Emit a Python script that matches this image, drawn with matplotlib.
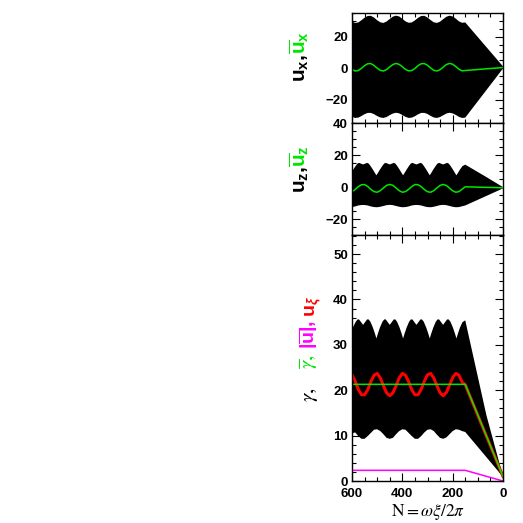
import numpy as np
import matplotlib
matplotlib.use("Agg")
import matplotlib.pyplot as plt
from matplotlib.ticker import MultipleLocator

plt.rcParams["font.family"] = ["Liberation Sans", "DejaVu Sans"]
plt.rcParams["mathtext.fontset"] = "custom"
plt.rcParams["mathtext.rm"] = "Liberation Sans:bold"
plt.rcParams["mathtext.it"] = "Liberation Sans:italic:bold"
plt.rcParams["mathtext.bf"] = "Liberation Sans:bold"

W, H = 523, 523

# sample positions in N (oscillating part), tail ends at N = 0
N_osc = [600, 587.5, 575, 562.5, 550, 537.5, 525, 512.5, 500, 487.5, 475, 462.5,
         450, 437.5, 425, 412.5, 400, 387.5, 375, 362.5, 350, 337.5, 325, 312.5,
         300, 287.5, 275, 262.5, 250, 237.5, 225, 212.5, 200, 187.5, 175, 162.5, 150]

# u_x band and mean
ux_hi = [29.6, 28.7, 29.0, 30.4, 32.0, 33.1, 33.2, 32.1, 30.4, 29.1, 28.7, 29.6,
         31.2, 32.7, 33.3, 32.8, 31.3, 29.7, 28.8, 29.0, 30.3, 31.9, 33.1, 33.2,
         32.1, 30.5, 29.1, 28.7, 29.5, 31.1, 32.6, 33.3, 32.8, 31.4, 29.7, 28.8, 29.0, 1.1]
ux_lo = [-30.9, -31.6, -31.4, -30.4, -29.2, -28.4, -28.4, -29.2, -30.4, -31.3, -31.6, -31.0,
         -29.8, -28.8, -28.3, -28.7, -29.7, -30.9, -31.6, -31.4, -30.5, -29.3, -28.4, -28.4,
         -29.1, -30.3, -31.3, -31.6, -31.0, -29.9, -28.8, -28.3, -28.7, -29.7, -30.9, -31.6, -31.4, -0.2]
ux_mean = [-0.8, -1.8, -1.5, -0.1, 1.6, 2.8, 2.9, 1.7, 0.0, -1.4, -1.8, -0.9,
           0.8, 2.3, 3.0, 2.4, 0.9, -0.8, -1.7, -1.5, -0.2, 1.6, 2.8, 2.9,
           1.8, 0.1, -1.4, -1.8, -1.0, 0.7, 2.3, 3.0, 2.5, 1.0, -0.7, -1.7, -1.5, 0.4]

# cusp-shaped upper edges (u_z and gamma) share these positions
N_cusp = [600, 595, 585, 578, 572, 564, 556, 548, 540, 534, 527, 517, 509, 503,
          497, 489, 479, 472, 466, 458, 450, 442, 434, 428, 421, 411, 403, 397,
          391, 383, 373, 366, 360, 352, 344, 336, 328, 322, 315, 305, 297, 291,
          285, 277, 267, 260, 254, 246, 238, 230, 222, 216, 209, 199, 191, 185,
          179, 171, 161, 150, 66, 0]

uz_hi = [9.7, 11.0, 13.4, 14.8, 15.2, 14.7, 14.2, 14.7, 15.2, 14.8, 13.4, 11.0, 8.9, 7.4,
         8.9, 11.0, 13.4, 14.8, 15.2, 14.7, 14.2, 14.7, 15.2, 14.8, 13.4, 11.0, 8.9, 7.4,
         8.9, 11.0, 13.4, 14.8, 15.2, 14.7, 14.2, 14.7, 15.2, 14.8, 13.4, 11.0, 8.9, 7.4,
         8.9, 11.0, 13.4, 14.8, 15.2, 14.7, 14.2, 14.7, 15.2, 14.8, 13.4, 11.0, 8.9, 7.4,
         8.9, 11.0, 13.2, 14.1, 6.3, 0.0]
uz_lo = [-12.5, -12.1, -11.5, -11.2, -11.2, -11.5, -12.1, -12.5, -12.6, -12.3, -11.8, -11.3,
         -11.1, -11.3, -11.8, -12.3, -12.6, -12.5, -12.1, -11.5, -11.2, -11.2, -11.5, -12.1,
         -12.5, -12.6, -12.3, -11.8, -11.3, -11.1, -11.3, -11.8, -12.3, -12.6, -12.5, -12.0, -11.5, -0.8]
uz_mean = [-2.9, -1.5, 0.3, 1.5, 1.6, 0.4, -1.4, -2.8, -3.2, -2.2, -0.5, 1.1,
           1.7, 1.1, -0.5, -2.2, -3.2, -2.8, -1.4, 0.4, 1.6, 1.5, 0.3, -1.5,
           -2.9, -3.2, -2.2, -0.5, 1.1, 1.7, 1.0, -0.6, -2.3, -3.2, -2.8, -1.3, 0.2, -0.4]

# gamma band, u_xi, mean gamma, |u bar|
gam_hi = [33.2, 34.0, 35.1, 35.6, 35.6, 35.0, 34.4, 35.0, 35.6, 35.6, 35.1, 33.8, 32.5, 31.4,
          32.5, 33.8, 35.1, 35.6, 35.6, 35.0, 34.4, 35.0, 35.6, 35.6, 35.1, 33.8, 32.5, 31.4,
          32.5, 33.8, 35.1, 35.6, 35.6, 35.0, 34.4, 35.0, 35.6, 35.6, 35.1, 33.8, 32.5, 31.4,
          32.5, 33.8, 35.1, 35.6, 35.6, 35.0, 34.4, 35.0, 35.6, 35.6, 35.1, 33.8, 32.5, 31.4,
          32.5, 33.8, 35.0, 35.4, 14.5, 1.0]
gam_lo = [10.5, 10.7, 9.9, 9.3, 9.3, 9.9, 10.6, 11.3, 11.4, 11.0, 10.3, 9.5,
          9.3, 9.5, 10.3, 11.0, 11.4, 11.3, 10.6, 9.9, 9.3, 9.3, 9.9, 10.7,
          11.3, 11.4, 11.0, 10.2, 9.5, 9.3, 9.6, 10.3, 11.0, 11.4, 11.3, 11.0, 10.8, 0.9]
u_xi = [23.4, 22.0, 20.2, 19.0, 19.0, 20.1, 21.9, 23.3, 23.7, 22.7, 21.0, 19.4,
        18.8, 19.4, 21.0, 22.7, 23.7, 23.3, 21.9, 20.1, 19.0, 19.0, 20.2, 22.0,
        23.4, 23.7, 22.7, 21.0, 19.4, 18.8, 19.5, 21.1, 22.8, 23.7, 23.3, 21.8, 21.2, 1.0]
N_line = [600, 150, 0]
gam_mean = [21.3, 21.3, 1.0]
ubar_abs = [2.35, 2.35, 0.0]

GREEN = "#00e600"
RED = "#ff0000"
MAG = "#ff00ff"

N_all = N_osc + [0]

fig = plt.figure(figsize=(W / 100, H / 100), dpi=100)
ax1 = fig.add_axes([352 / W, 1 - 123.3 / H, 151 / W, 110.3 / H])
ax2 = fig.add_axes([352 / W, 1 - 235 / H, 151 / W, 111.7 / H])
ax3 = fig.add_axes([352 / W, 1 - 481 / H, 151 / W, 246 / H])


def band(ax, xu, yu, xl, yl):
    xs = np.r_[xu, xl[::-1]]
    ys = np.r_[yu, yl[::-1]]
    ax.fill(xs, ys, color="black", lw=0)


# top: u_x
band(ax1, N_all, ux_hi, N_all, ux_lo)
ax1.plot(N_all, ux_mean, color=GREEN, lw=1.1)
ax1.set_ylim(-35, 35)
ax1.yaxis.set_major_locator(MultipleLocator(20))
ax1.yaxis.set_minor_locator(MultipleLocator(5))

# middle: u_z
band(ax2, N_cusp, uz_hi, N_all, uz_lo)
ax2.plot(N_all, uz_mean, color=GREEN, lw=1.1)
ax2.set_ylim(-30, 40)
ax2.yaxis.set_major_locator(MultipleLocator(20))
ax2.yaxis.set_minor_locator(MultipleLocator(5))

# bottom: gamma
band(ax3, N_cusp, gam_hi, N_all, gam_lo)
ax3.plot(N_all, u_xi, color=RED, lw=2.2)
ax3.plot(N_line, gam_mean, color=GREEN, lw=1.1)
ax3.plot(N_line, ubar_abs, color=MAG, lw=1.1)
ax3.set_ylim(0, 54.2)
ax3.yaxis.set_major_locator(MultipleLocator(10))
ax3.yaxis.set_minor_locator(MultipleLocator(2))

for ax in (ax1, ax2, ax3):
    ax.set_xlim(600, 0)
    ax.xaxis.set_major_locator(MultipleLocator(200))
    ax.xaxis.set_minor_locator(MultipleLocator(50))
    ax.tick_params(which="both", direction="in", top=True, right=True,
                   width=0.8, labelsize=9.5, pad=3)
    ax.tick_params(which="major", length=6)
    ax.tick_params(which="minor", length=3)
    for sp in ax.spines.values():
        sp.set_linewidth(1.0)
for ax in (ax1, ax2):
    ax.tick_params(labelbottom=False)
ax3.tick_params(axis="x", pad=5)


def piece(x, y, s, color, size=15, fam="custom"):
    # rotated label fragment, starting at image pixel (x, y) and running upward
    fig.text(x / W, 1 - y / H, s, color=color, rotation=90, rotation_mode="anchor",
             ha="left", va="baseline", fontsize=size, math_fontfamily=fam)


piece(306, 82, r"$\mathrm{u_x},$", "black")
piece(306, 54, r"$\overline{\mathrm{u}}_\mathrm{x}$", GREEN)

piece(306, 193, r"$\mathrm{u_z},$", "black")
piece(306, 167, r"$\overline{\mathrm{u}}_\mathrm{z}$", GREEN)

piece(314, 402, r"$\gamma,$", "black", fam="stix")
piece(314, 369, r"$\overline{\gamma},$", GREEN, fam="stix")
piece(314, 349, r"$|\overline{\mathrm{u}}|,$", MAG, size=14)
piece(314, 317, r"$\mathrm{u}_\xi$", RED, size=14)

fig.text(428 / W, 1 - 512 / H, r"$\mathrm{N}=\omega\xi/2\pi$", ha="center", va="center",
         fontsize=12.5, math_fontfamily="stix")

# bold tick numbers
fig.canvas.draw()
for ax in (ax1, ax2, ax3):
    plt.setp(ax.get_xticklabels() + ax.get_yticklabels(), fontweight="bold")

fig.savefig("out.png", dpi=100)
